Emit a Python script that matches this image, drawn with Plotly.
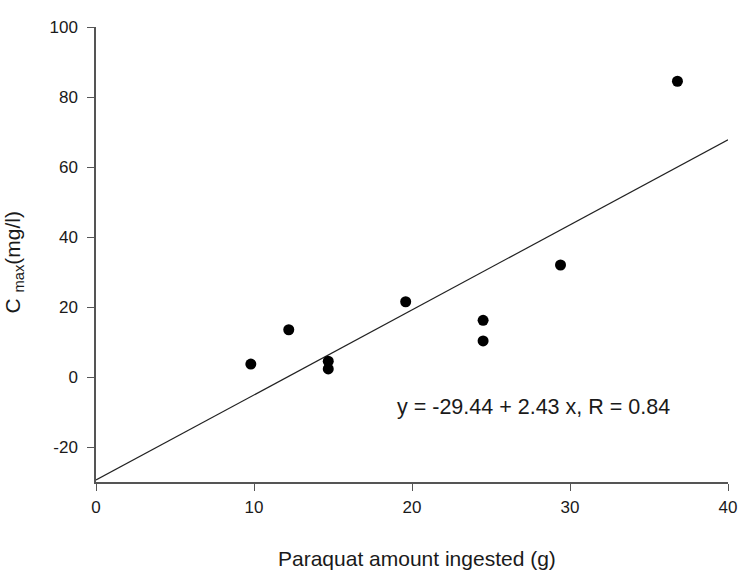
import plotly.graph_objects as go

# Data
paraquat_g = [9.8, 12.2, 14.7, 14.7, 19.6, 24.5, 24.5, 29.4, 36.8]
cmax_mg_l = [3.7, 13.5, 4.5, 2.3, 21.5, 16.2, 10.3, 32.0, 84.5]

intercept = -29.44
slope = 2.43
r_value = 0.84
fit_x = [0, 40]
fit_y = [intercept + slope * x for x in fit_x]

x_ticks = [0, 10, 20, 30, 40]
y_ticks = [-20, 0, 20, 40, 60, 80, 100]

FONT = "Arial, Liberation Sans, sans-serif"
TXT = "#1a1a1a"

fig = go.Figure()
fig.add_trace(go.Scatter(x=fit_x, y=fit_y, mode="lines",
                         line=dict(color="#222222", width=1.2),
                         showlegend=False, hoverinfo="skip"))
fig.add_trace(go.Scatter(x=paraquat_g, y=cmax_mg_l, mode="markers",
                         marker=dict(color="black", size=11),
                         showlegend=False))

axis_common = dict(showgrid=False, zeroline=False, showline=True,
                   linecolor="#555555", linewidth=1.5, ticks="outside",
                   ticklen=7, tickwidth=1.2, tickcolor="#555555",
                   automargin=False,
                   tickfont=dict(family=FONT, size=17, color=TXT))

fig.update_xaxes(range=[0, 40], tickvals=x_ticks,
                 ticktext=[str(v) for v in x_ticks],
                 ticklabelstandoff=2, **axis_common)
fig.update_yaxes(range=[-30, 100], tickvals=y_ticks,
                 ticktext=[str(v) for v in y_ticks],
                 ticklabelstandoff=6, **axis_common)

fig.add_annotation(x=18.9, y=-8.6, xref="x", yref="y",
                   text=f"y = {intercept:.2f} + {slope:.2f} x, R = {r_value:.2f}",
                   showarrow=False, xanchor="left", yanchor="middle",
                   font=dict(family=FONT, size=21.5, color=TXT))
fig.add_annotation(x=0.5, y=0, xref="paper", yref="paper", yshift=-76, xshift=5,
                   text="Paraquat amount ingested (g)", showarrow=False,
                   xanchor="center", yanchor="middle",
                   font=dict(family=FONT, size=21, color=TXT))
fig.add_annotation(x=0, y=0.5, xref="paper", yref="paper", xshift=-83, yshift=-8,
                   text="C <sub>max</sub>(mg/l)", showarrow=False, textangle=-90,
                   xanchor="center", yanchor="middle",
                   font=dict(family=FONT, size=21, color=TXT))

fig.update_layout(width=741, height=573,
                  margin=dict(l=96, r=13, t=27, b=91, autoexpand=False),
                  plot_bgcolor="white", paper_bgcolor="white")

# remove the default page margin so the figure fills the window exactly
fig.write_html("out.html", config={"displayModeBar": False},
               post_script="document.body.style.margin='0';document.body.style.overflow='hidden';")
